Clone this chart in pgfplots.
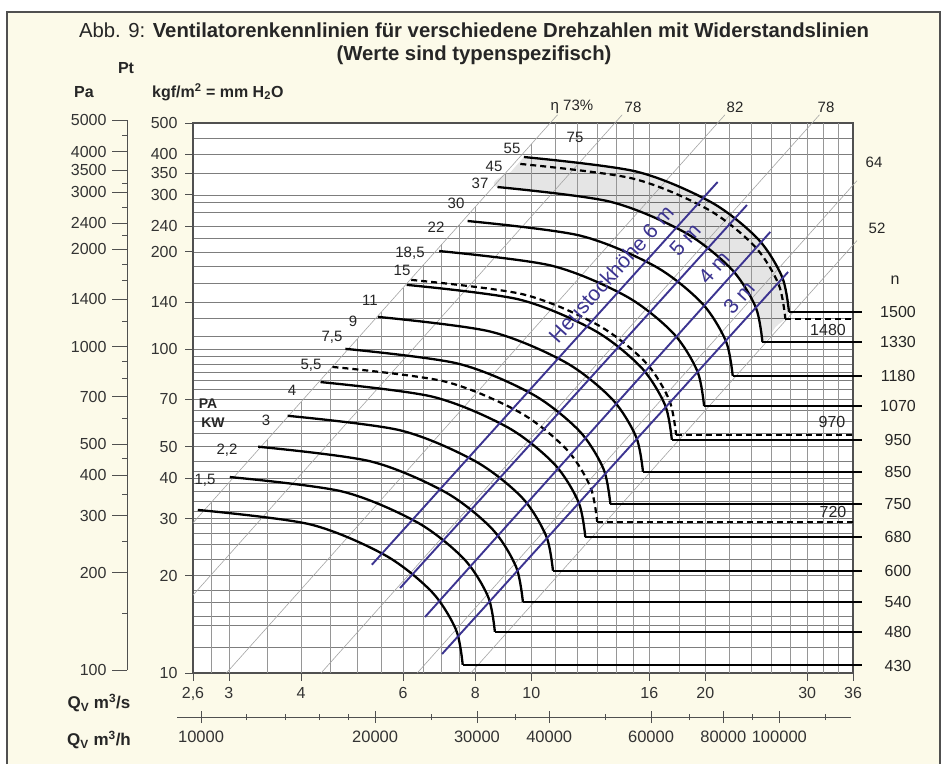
\documentclass[border=0pt]{standalone}
\usepackage{fontspec}
\setmainfont{Liberation Sans}
\usepackage{pgfplots}
\pgfplotsset{compat=1.18}

\definecolor{paper}{RGB}{252,250,233}
\definecolor{framegray}{RGB}{80,80,80}
\definecolor{gridh}{RGB}{125,125,125}
\definecolor{gridv}{RGB}{150,150,150}
\definecolor{etagray}{RGB}{165,165,165}
\definecolor{heu}{RGB}{60,52,145}

\pgfplotsset{
  fan/.style={black, line width=2.3pt, smooth},
  fandash/.style={black, line width=2.2pt, smooth, dash pattern=on 6pt off 4pt},
  lead/.style={black, line width=1.8pt},
  leaddash/.style={black, line width=1.8pt, dash pattern=on 6pt off 4pt},
  vgrid/.style={gridv, line width=0.6pt},
  eta/.style={etagray, line width=0.6pt},
  heuline/.style={heu, line width=1.9pt},
}

\begin{document}
\begin{tikzpicture}
\useasboundingbox (0pt,0pt) rectangle (947pt,764pt);
\fill[white] (0pt,0pt) rectangle (947pt,764pt);
\fill[paper] (7pt,0pt) rectangle (940pt,752pt);
\draw[framegray, line width=2pt] (7pt,0pt) -- (7pt,752pt) -- (940pt,752pt) -- (940pt,0pt);

% pressure scale in Pa (1 mm H2O = 9.81 Pa)
\begin{axis}[
  at={(127pt,93.7pt)}, anchor=south west,
  scale only axis, width=1pt, height=550pt,
  ymode=log, ymin=100, ymax=5000, xmin=0, xmax=1,
  axis x line=none, axis y line=left,
  axis line style={-, framegray, line width=1pt},
  ytick={100,200,300,400,500,700,1000,1400,2000,2400,3000,3500,4000,5000},
  yticklabels={100,200,300,400,500,700,1000,1400,2000,2400,3000,3500,4000,5000},
  minor ytick={150,250,350,450,600,800,900,1200,1600,1800,2200,2700,3200,4500},
  tick align=outside, major tick length=15pt, minor tick length=5pt,
  tick style={framegray, line width=0.8pt},
  tick label style={font=\fontsize{16}{18}\selectfont, text=black!80},
  yticklabel style={xshift=-2pt},
]
\end{axis}

% volume flow in m3/h
\begin{axis}[
  at={(177pt,47pt)}, anchor=south west,
  scale only axis, width=674pt, height=1pt,
  xmode=log, xmin=9088, xmax=133050, ymin=0, ymax=1,
  axis y line=none, axis x line=bottom,
  axis line style={-, framegray, line width=1pt},
  xtick={10000,20000,30000,40000,60000,80000,100000},
  xticklabels={10000,20000,30000,40000,60000,80000,100000},
  minor xtick={12000,14000,16000,18000,25000,35000,50000,70000,90000,120000},
  tick align=center, major tick length=12pt, minor tick length=6pt,
  tick style={framegray, line width=0.8pt},
  tick label style={font=\fontsize{16.5}{18}\selectfont, text=black!80},
  xticklabel style={yshift=-4pt},
]
\end{axis}

\begin{axis}[
  name=main, at={(193pt,91pt)}, anchor=south west,
  scale only axis, width=660pt, height=550pt,
  xmode=log, ymode=log, xmin=2.6, xmax=36, ymin=10, ymax=500,
  clip=false,
  axis line style={framegray, line width=1.3pt},
  axis background/.style={fill=white},
  xtick={2.6,3,4,6,8,10,16,20,30,36},
  xticklabels={{2,6},3,4,6,8,10,16,20,30,36},
  ytick={10,20,30,40,50,70,100,140,200,240,300,350,400,500},
  yticklabels={10,20,30,40,50,70,100,140,200,240,300,350,400,500},
  minor ytick={12,14,15,16.5,18,22.5,25,27,29,31.5,34,36.5,38.5,42,45,55,60,65,75,80,85,90,95,110,125,160,180,220,265,285,450},
  xtick pos=bottom, ytick pos=left,
  tick align=outside, major tick length=8pt, minor tick length=0pt,
  tick style={framegray, line width=0.8pt},
  ymajorgrids, yminorgrids,
  major grid style={gridh, line width=0.6pt},
  minor grid style={gridh, line width=0.6pt},
  tick label style={font=\fontsize{16}{18}\selectfont, text=black!80},
  xticklabel style={yshift=-3pt},
  yticklabel style={xshift=-4pt},
]

% shaded band between the 1500 and 1330 rpm curves
\addplot[fill=black, fill opacity=0.1, draw=none, smooth] coordinates {
  (9.71,392.6) (15.17,354.2) (20.48,284.4) (24.67,218.9) (27.15,167.2) (27.9,130.4)
  (26.46,117.2)
  (25.1,105.3) (24.43,135.0) (22.19,176.8) (18.42,229.7) (13.65,286.0) (8.74,317.1)
  (9.21,352.8)};

% vertical grid, bounded by the 73 % line
\addplot[vgrid] coordinates {(2.8,10) (2.8,33.7)};
\addplot[vgrid] coordinates {(3,10) (3,38.7)};
\addplot[vgrid] coordinates {(3.5,10) (3.5,52.7)};
\addplot[vgrid] coordinates {(4,10) (4,68.8)};
\addplot[vgrid] coordinates {(4.5,10) (4.5,87.1)};
\addplot[vgrid] coordinates {(5,10) (5,107.5)};
\addplot[vgrid] coordinates {(5.5,10) (5.5,130.1)};
\addplot[vgrid] coordinates {(6,10) (6,154.8)};
\addplot[vgrid] coordinates {(6.5,10) (6.5,181.7)};
\addplot[vgrid] coordinates {(7,10) (7,210.7)};
\addplot[vgrid] coordinates {(7.5,10) (7.5,241.9)};
\addplot[vgrid] coordinates {(8,10) (8,275.2)};
\addplot[vgrid] coordinates {(9,10) (9,348.3)};
\addplot[vgrid] coordinates {(10,10) (10,430)};
\addplot[vgrid] coordinates {(11,10) (11,500)};
\addplot[vgrid] coordinates {(12,10) (12,500)};
\addplot[vgrid] coordinates {(13,10) (13,500)};
\addplot[vgrid] coordinates {(14,10) (14,500)};
\addplot[vgrid] coordinates {(15,10) (15,500)};
\addplot[vgrid] coordinates {(16,10) (16,500)};
\addplot[vgrid] coordinates {(18,10) (18,500)};
\addplot[vgrid] coordinates {(20,10) (20,500)};
\addplot[vgrid] coordinates {(22,10) (22,500)};
\addplot[vgrid] coordinates {(24,10) (24,500)};
\addplot[vgrid] coordinates {(26,10) (26,500)};
\addplot[vgrid] coordinates {(28,10) (28,500)};
\addplot[vgrid] coordinates {(30,10) (30,500)};
\addplot[vgrid] coordinates {(32,10) (32,500)};
\addplot[vgrid] coordinates {(34,10) (34,500)};

% efficiency lines
\addplot[eta] coordinates {(2.6,29.1) (11.10,530)};
\addplot[eta] coordinates {(2.6,17.4) (14.36,530)};
\addplot[eta] coordinates {(2.97,10) (21.62,530)};
\addplot[eta] coordinates {(4.33,10) (31.50,530)};
\addplot[eta] coordinates {(6.35,10) (36.57,331.7)};
\addplot[eta] coordinates {(7.86,10) (36.57,216.6)};

% fan curves, n = 1500 ... 430 1/min
\addplot[fan] coordinates {(9.71,392.6) (15.17,354.2) (20.48,284.4) (24.67,218.9) (27.15,167.2) (27.9,130.4)};
\addplot[lead] coordinates {(27.9,130.4) (37.3,130.4)};
\addplot[fandash] coordinates {(9.57,373.7) (14.95,337.1) (20.18,270.7) (24.31,208.4) (26.76,159.1) (27.5,124.1)};
\addplot[leaddash] coordinates {(27.5,124.1) (36,124.1)};
\addplot[fan] coordinates {(8.74,317.1) (13.65,286.0) (18.42,229.7) (22.19,176.8) (24.43,135.0) (25.1,105.3)};
\addplot[lead] coordinates {(25.1,105.3) (37.3,105.3)};
\addplot[fan] coordinates {(7.76,249.0) (12.12,224.6) (16.37,180.4) (19.72,138.9) (21.70,106.0) (22.3,82.7)};
\addplot[lead] coordinates {(22.3,82.7) (37.3,82.7)};
\addplot[fan] coordinates {(6.93,201.1) (10.82,181.4) (14.60,145.7) (17.59,112.2) (19.37,85.6) (19.9,66.8)};
\addplot[lead] coordinates {(19.9,66.8) (37.3,66.8)};
\addplot[fandash] coordinates {(6.20,163.8) (9.68,147.8) (13.06,118.6) (15.74,91.3) (17.32,69.7) (17.8,54.4)};
\addplot[leaddash] coordinates {(17.8,54.4) (36,54.4)};
\addplot[fan] coordinates {(6.09,158.1) (9.51,142.6) (12.84,114.5) (15.47,88.1) (17.03,67.3) (17.5,52.5)};
\addplot[lead] coordinates {(17.5,52.5) (37.3,52.5)};
\addplot[fan] coordinates {(5.43,125.9) (8.48,113.5) (11.45,91.2) (13.79,70.2) (15.18,53.6) (15.6,41.8)};
\addplot[lead] coordinates {(15.6,41.8) (37.3,41.8)};
\addplot[fan] coordinates {(4.77,100.3) (7.45,90.4) (10.05,72.6) (12.11,55.9) (13.33,42.7) (13.7,33.3)};
\addplot[lead] coordinates {(13.7,33.3) (37.3,33.3)};
\addplot[fandash] coordinates {(4.53,88.2) (7.07,79.6) (9.54,63.9) (11.49,49.2) (12.65,37.6) (13.0,29.3)};
\addplot[leaddash] coordinates {(13.0,29.3) (36,29.3)};
\addplot[fan] coordinates {(4.32,79.2) (6.74,71.4) (9.10,57.4) (10.96,44.2) (12.07,33.7) (12.4,26.3)};
\addplot[lead] coordinates {(12.4,26.3) (37.3,26.3)};
\addplot[fan] coordinates {(3.79,62.3) (5.93,56.2) (8.00,45.1) (9.64,34.8) (10.61,26.5) (10.9,20.7)};
\addplot[lead] coordinates {(10.9,20.7) (37.3,20.7)};
\addplot[fan] coordinates {(3.37,50.0) (5.26,45.1) (7.10,36.2) (8.55,27.9) (9.41,21.3) (9.67,16.6)};
\addplot[lead] coordinates {(9.67,16.6) (37.3,16.6)};
\addplot[fan] coordinates {(3.01,40.3) (4.70,36.4) (6.35,29.2) (7.65,22.5) (8.42,17.2) (8.65,13.4)};
\addplot[lead] coordinates {(8.65,13.4) (37.3,13.4)};
\addplot[fan] coordinates {(2.65,31.9) (4.14,28.8) (5.59,23.1) (6.73,17.8) (7.41,13.6) (7.61,10.6)};
\addplot[lead] coordinates {(7.61,10.6) (37.3,10.6)};

% resistance lines for hay stack heights
\addplot[heuline] coordinates {(5.30,21.6) (21.0,328.7)};
\addplot[heuline] coordinates {(5.93,18.3) (23.6,279)};
\addplot[heuline] coordinates {(6.55,14.9) (25.9,230.4)};
\addplot[heuline] coordinates {(7.01,11.45) (27.8,173.3)};
\end{axis}

% labels
\begin{scope}[every node/.style={text=black!85, inner sep=0pt}]
\node[font=\fontsize{20.3}{24}\selectfont] at (474pt,734pt) {Abb. 9: \textbf{Ventilatorenkennlinien für verschiedene Drehzahlen mit Widerstandslinien}};
\node[font=\fontsize{20.3}{24}\selectfont] at (474pt,709pt) {\textbf{(Werte sind typenspezifisch)}};

\node[font=\bfseries\fontsize{16}{18}\selectfont] at (84pt,672pt) {Pa};
\node[font=\bfseries\fontsize{16}{18}\selectfont] at (126pt,696pt) {Pt};
\node[font=\bfseries\fontsize{16}{18}\selectfont, anchor=west] at (152pt,672pt) {kgf/m\textsuperscript{2} = mm H\textsubscript{2}O};

\node[font=\bfseries\fontsize{17}{19}\selectfont] at (99pt,61pt) {Q\textsubscript{V} m\textsuperscript{3}/s};
\node[font=\bfseries\fontsize{17}{19}\selectfont] at (99pt,24pt) {Q\textsubscript{V} m\textsuperscript{3}/h};

\begin{scope}[every node/.append style={font=\fontsize{15}{17}\selectfont}]
\node at (572pt,657pt) {η 73\%};
\node at (633pt,657pt) {78};
\node at (735pt,657pt) {82};
\node at (826pt,657pt) {78};
\node at (874pt,602pt) {64};
\node at (877pt,536pt) {52};

\node at (575pt,627pt) {75};
\node at (512pt,616pt) {55};
\node at (494pt,598pt) {45};
\node at (480pt,581pt) {37};
\node at (456pt,561pt) {30};
\node at (436pt,537pt) {22};
\node at (410pt,511pt) {18,5};
\node at (402pt,494pt) {15};
\node at (370pt,464pt) {11};
\node at (353pt,443pt) {9};
\node at (332pt,427pt) {7,5};
\node at (311pt,399pt) {5,5};
\node at (292pt,374pt) {4};
\node at (266pt,344pt) {3};
\node at (227pt,314pt) {2,2};
\node at (205pt,284pt) {1,5};
\node[font=\bfseries\fontsize{14}{16}\selectfont] at (208pt,360pt) {PA};
\node[font=\bfseries\fontsize{14}{16}\selectfont] at (213pt,341pt) {KW};
\end{scope}

\begin{scope}[every node/.append style={font=\fontsize{16}{18}\selectfont}]
\node at (895pt,484pt) {n};
\node at (898pt,452pt) {1500};
\node at (898pt,422pt) {1330};
\node at (898pt,388pt) {1180};
\node at (898pt,358pt) {1070};
\node at (898pt,324pt) {950};
\node at (898pt,292pt) {850};
\node at (898pt,260pt) {750};
\node at (898pt,227pt) {680};
\node at (898pt,193pt) {600};
\node at (898pt,162pt) {540};
\node at (898pt,132pt) {480};
\node at (898pt,98pt) {430};
\node at (828pt,434pt) {1480};
\node at (832pt,342pt) {970};
\node at (833pt,252pt) {720};
\end{scope}

\begin{scope}[every node/.append style={text=heu, font=\fontsize{21}{23}\selectfont, rotate=48}]
\node at (611pt,490pt) {Heustockhöhe 6 m};
\node at (685pt,524pt) {5 m};
\node at (714pt,496pt) {4 m};
\node at (739pt,466pt) {3 m};
\end{scope}
\end{scope}
\end{tikzpicture}
\end{document}
